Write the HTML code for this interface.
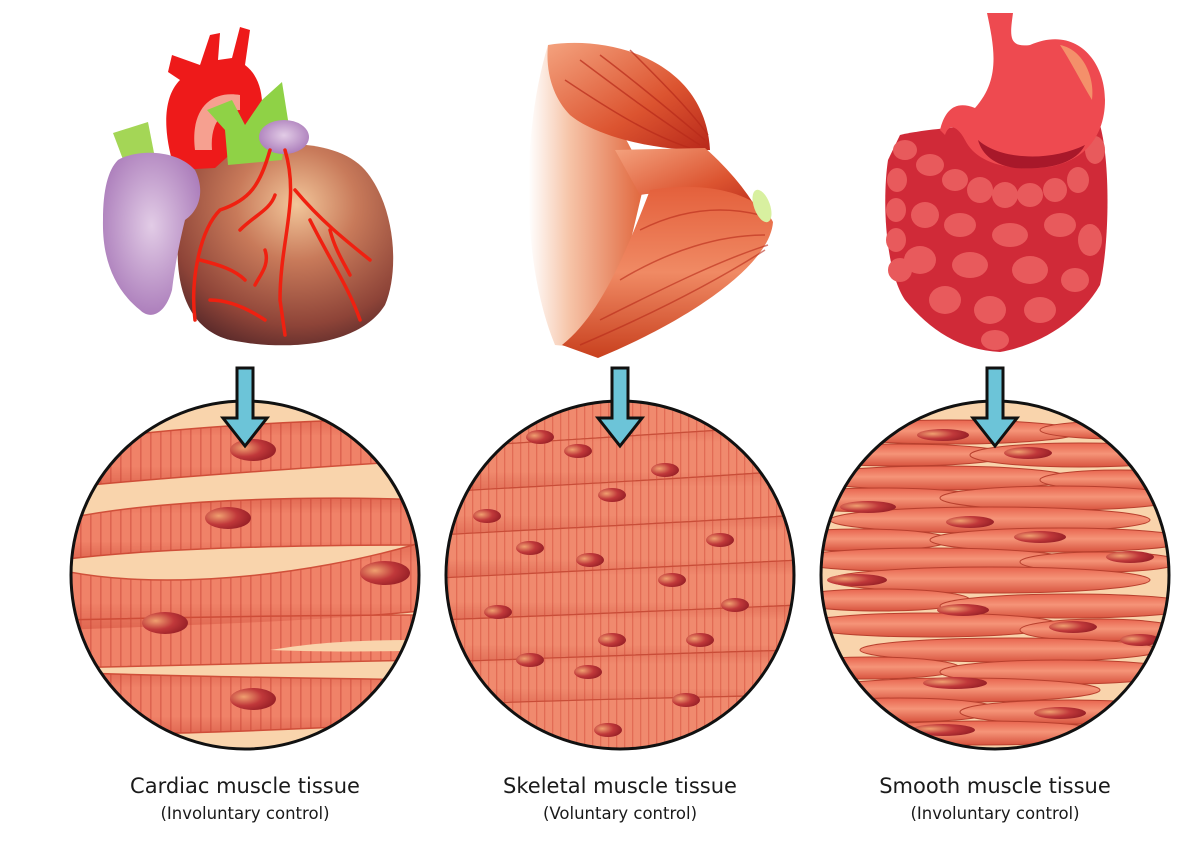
<!DOCTYPE html>
<html><head><meta charset="utf-8"><style>
html,body{margin:0;padding:0;background:#fff;}
svg{display:block}
text{font-family:"DejaVu Sans","Liberation Sans",sans-serif;fill:#1a1a1a;text-anchor:middle}
</style></head><body>
<svg width="1180" height="866" viewBox="0 0 1180 866" xmlns="http://www.w3.org/2000/svg">
<defs>
<pattern id="str" width="10" height="20" patternUnits="userSpaceOnUse"><rect width="10" height="20" fill="#f08268"/><rect x="0" width="1.6" height="20" fill="#de6450"/></pattern>
<pattern id="str2" width="8" height="20" patternUnits="userSpaceOnUse"><rect width="8" height="20" fill="#f08a6e"/><rect x="0" width="1.3" height="20" fill="#e26c55"/></pattern>
<linearGradient id="bandsh" x1="0" y1="0" x2="0" y2="1"><stop offset="0" stop-color="#c84030" stop-opacity="0.5"/><stop offset="0.25" stop-color="#c84030" stop-opacity="0"/><stop offset="0.7" stop-color="#c84030" stop-opacity="0"/><stop offset="1" stop-color="#c84030" stop-opacity="0.6"/></linearGradient>
<radialGradient id="nuc" cx="0.3" cy="0.4" r="0.8"><stop offset="0" stop-color="#f0a070"/><stop offset="0.5" stop-color="#c0383a"/><stop offset="1" stop-color="#8e1a22"/></radialGradient>
<linearGradient id="spin" x1="0" y1="0" x2="0" y2="1"><stop offset="0" stop-color="#e8644e"/><stop offset="0.45" stop-color="#f59478"/><stop offset="1" stop-color="#d8543f"/></linearGradient>
<radialGradient id="heart" cx="0.55" cy="0.3" r="0.8"><stop offset="0" stop-color="#f2c69a"/><stop offset="0.35" stop-color="#c87a5a"/><stop offset="0.75" stop-color="#8e4438"/><stop offset="1" stop-color="#4a2226"/></radialGradient>
<linearGradient id="upper" x1="0" y1="0" x2="1" y2="0"><stop offset="0" stop-color="#ffffff"/><stop offset="0.35" stop-color="#f6c4a8"/><stop offset="1" stop-color="#e0643a"/></linearGradient>
<linearGradient id="musc" x1="0" y1="0" x2="1" y2="1"><stop offset="0" stop-color="#f4a27e"/><stop offset="0.6" stop-color="#dc5430"/><stop offset="1" stop-color="#b8281a"/></linearGradient>
<linearGradient id="fore" x1="0" y1="0" x2="0" y2="1"><stop offset="0" stop-color="#e4603c"/><stop offset="0.5" stop-color="#f08a64"/><stop offset="1" stop-color="#c8401e"/></linearGradient>
<radialGradient id="purp" cx="0.5" cy="0.45" r="0.6"><stop offset="0" stop-color="#e2cce6"/><stop offset="1" stop-color="#a878b8"/></radialGradient>
<clipPath id="c1"><circle cx="245" cy="575" r="174"/></clipPath>
<clipPath id="c2"><circle cx="620" cy="575" r="174"/></clipPath>
<clipPath id="c3"><circle cx="995" cy="575" r="174"/></clipPath>
<g id="arrow"><path d="M-8,0 H8 V50 H22 L0,78 L-22,50 H-8 Z" fill="#6cc4d8" stroke="#111" stroke-width="3"/></g>
</defs>

<!-- HEART -->
<path d="M185,175 C230,140 330,130 365,170 C395,205 400,270 385,305 C360,345 290,352 230,340 C190,330 175,290 178,240 Z" fill="url(#heart)"/>
<path d="M200,65 L210,35 L220,33 L218,60 L232,58 L240,27 L250,30 L245,65 C265,80 265,110 258,140 L235,150 L215,168 L175,170 C165,140 160,100 180,80 L168,72 L172,55 Z" fill="#ee1a1a"/>
<path d="M195,150 C190,110 210,90 240,95 L240,110 C220,110 210,125 212,150 Z" fill="#f6a090"/>
<path d="M207,110 L232,100 L245,125 L262,100 L282,82 L288,120 L282,160 L228,165 L225,130 Z" fill="#8fd246"/>
<path d="M113,133 L148,122 L155,158 L127,170 Z" fill="#a4d656"/>
<ellipse cx="284" cy="137" rx="25" ry="17" fill="url(#purp)"/>
<path d="M118,160 C135,150 175,148 195,170 C205,190 200,210 185,220 C180,240 175,265 172,290 C165,315 150,320 140,310 C115,290 102,260 103,220 C103,190 108,170 118,160Z" fill="url(#purp)"/>
<g stroke="#f02010" stroke-width="3.5" fill="none" stroke-linecap="round">
<path d="M270,150 C260,185 250,200 220,210 C200,230 190,280 195,320"/>
<path d="M285,150 C300,200 280,240 280,300 L285,335"/>
<path d="M295,190 C320,220 345,240 370,260"/><path d="M310,220 C330,260 350,290 360,320"/>
<path d="M240,230 C255,215 270,210 275,195"/><path d="M265,250 C270,265 260,275 255,285"/>
<path d="M200,260 C220,265 235,270 245,280"/><path d="M210,300 C230,300 250,310 265,320"/>
<path d="M330,230 C335,250 345,265 350,275"/>
</g>

<!-- ARM -->
<path d="M548,45 C522,130 520,260 555,345 L605,350 L645,180 C630,140 600,90 548,45Z" fill="url(#upper)"/>
<path d="M548,45 C610,35 705,60 710,150 C670,152 600,140 570,115 C555,100 545,75 548,45Z" fill="url(#musc)"/>
<g stroke="#b82a1a" stroke-width="1.5" fill="none" opacity="0.7">
<path d="M580,60 C620,90 660,120 700,145"/><path d="M600,55 C640,85 675,115 705,140"/><path d="M565,80 C610,110 650,135 690,148"/><path d="M630,50 C660,80 690,110 708,135"/>
</g>
<path d="M615,150 L705,148 C730,170 750,195 760,215 L748,212 C710,195 670,190 640,195 Z" fill="url(#musc)"/>
<path d="M650,190 C710,180 760,195 773,222 C770,265 690,320 598,358 L562,345 C600,315 625,255 650,190 Z" fill="url(#fore)"/>
<g stroke="#b82a1a" stroke-width="1.5" fill="none" opacity="0.6">
<path d="M640,230 C680,210 720,205 760,215"/><path d="M620,280 C670,250 720,235 765,235"/><path d="M600,320 C660,290 720,260 768,245"/><path d="M580,345 C650,315 710,285 765,250"/>
</g>
<ellipse cx="762" cy="206" rx="8" ry="17" fill="#d8f0a0" transform="rotate(-20 762 206)"/>

<!-- INTESTINE / STOMACH -->
<path d="M900,135 C940,125 1060,120 1100,125 C1110,160 1110,240 1100,285 C1080,320 1040,345 1000,352 C960,350 930,330 905,300 C885,270 882,200 888,160Z" fill="#d02a38"/>
<g fill="#e85a5c">
<ellipse cx="905" cy="150" rx="12" ry="10"/><ellipse cx="897" cy="180" rx="10" ry="12"/><ellipse cx="896" cy="210" rx="10" ry="12"/><ellipse cx="896" cy="240" rx="10" ry="12"/><ellipse cx="900" cy="270" rx="12" ry="12"/>
<ellipse cx="930" cy="165" rx="14" ry="11"/><ellipse cx="955" cy="180" rx="13" ry="11"/><ellipse cx="980" cy="190" rx="13" ry="13"/><ellipse cx="1005" cy="195" rx="13" ry="13"/><ellipse cx="1030" cy="195" rx="13" ry="12"/><ellipse cx="1055" cy="190" rx="12" ry="12"/><ellipse cx="1078" cy="180" rx="11" ry="13"/><ellipse cx="1095" cy="150" rx="10" ry="14"/>
<ellipse cx="925" cy="215" rx="14" ry="13"/><ellipse cx="960" cy="225" rx="16" ry="12"/><ellipse cx="1010" cy="235" rx="18" ry="12"/><ellipse cx="1060" cy="225" rx="16" ry="12"/><ellipse cx="1090" cy="240" rx="12" ry="16"/>
<ellipse cx="920" cy="260" rx="16" ry="14"/><ellipse cx="970" cy="265" rx="18" ry="13"/><ellipse cx="1030" cy="270" rx="18" ry="14"/><ellipse cx="1075" cy="280" rx="14" ry="12"/>
<ellipse cx="945" cy="300" rx="16" ry="14"/><ellipse cx="990" cy="310" rx="16" ry="14"/><ellipse cx="1040" cy="310" rx="16" ry="13"/><ellipse cx="995" cy="340" rx="14" ry="10"/>
</g>
<path d="M987,13 L1013,13 C1010,35 1008,48 1030,45 C1075,25 1105,60 1105,100 C1105,140 1080,165 1040,168 C1000,170 975,160 965,140 C960,130 950,120 945,135 L940,130 C945,110 955,100 975,108 C1000,80 995,50 987,13Z" fill="#ee4a50"/>
<path d="M1060,45 C1085,50 1095,80 1092,100 C1080,80 1070,60 1060,45Z" fill="#f4906a"/>
<path d="M978,140 C1000,160 1050,162 1085,145 C1075,165 1045,170 1015,168 C995,165 982,155 978,140Z" fill="#a8182a"/>

<!-- CARDIAC CIRCLE -->
<g clip-path="url(#c1)">
<rect x="60" y="390" width="370" height="370" fill="#f9d4ac"/>
<g stroke="#d0503a" stroke-width="1.5">
<path d="M60,445 C150,428 300,420 430,418 L430,460 C300,468 160,478 60,488Z" fill="url(#str)"/>
<path d="M60,520 C150,500 300,495 430,500 L430,545 C300,545 150,548 60,560Z" fill="url(#str)"/>
<path d="M60,570 C150,590 300,580 430,540 L430,610 C340,620 200,625 60,630Z" fill="url(#str)"/>
<path d="M60,620 C150,618 300,615 430,615 L430,660 C300,662 150,666 60,668Z" fill="url(#str)"/>
<path d="M60,672 C150,676 300,678 430,680 L430,722 C300,730 150,735 60,735Z" fill="url(#str)"/>
</g>
<g fill="url(#bandsh)" opacity="0.7">
<path d="M60,445 C150,428 300,420 430,418 L430,460 C300,468 160,478 60,488Z"/>
<path d="M60,520 C150,500 300,495 430,500 L430,545 C300,545 150,548 60,560Z"/>
<path d="M60,570 C150,590 300,580 430,540 L430,610 C340,620 200,625 60,630Z"/>
<path d="M60,672 C150,676 300,678 430,680 L430,722 C300,730 150,735 60,735Z"/>
</g>
<path d="M270,650 C330,640 380,640 430,640 L430,650 C380,652 320,652 270,650Z" fill="#f9d4ac"/>
<ellipse cx="253" cy="450" rx="23" ry="11" fill="url(#nuc)"/>
<ellipse cx="228" cy="518" rx="23" ry="11" fill="url(#nuc)"/>
<ellipse cx="385" cy="573" rx="25" ry="12" fill="url(#nuc)"/>
<ellipse cx="165" cy="623" rx="23" ry="11" fill="url(#nuc)"/>
<ellipse cx="253" cy="699" rx="23" ry="11" fill="url(#nuc)"/>
</g>
<circle cx="245" cy="575" r="174" fill="none" stroke="#111" stroke-width="3"/>

<!-- SKELETAL CIRCLE -->
<g clip-path="url(#c2)">
<rect x="440" y="395" width="360" height="360" fill="#f08a6e"/>
<g fill="url(#str2)" stroke="#c9503a" stroke-width="1.2">
<path d="M440,400 L800,400 L800,425 C700,432 560,440 440,448Z"/>
<path d="M440,448 C560,440 700,432 800,425 L800,470 C700,478 560,485 440,492Z"/>
<path d="M440,492 C560,485 700,478 800,470 L800,515 C700,522 560,528 440,535Z"/>
<path d="M440,535 C560,528 700,522 800,515 L800,560 C700,565 560,572 440,578Z"/>
<path d="M440,578 C560,572 700,565 800,560 L800,605 C700,610 560,615 440,620Z"/>
<path d="M440,620 C560,615 700,610 800,605 L800,650 C700,652 560,658 440,662Z"/>
<path d="M440,662 C560,658 700,652 800,650 L800,695 C700,697 560,700 440,705Z"/>
<path d="M440,705 C560,700 700,697 800,695 L800,760 L440,760Z"/>
</g>
<g fill="url(#bandsh)" opacity="0.6">
<path d="M440,448 C560,440 700,432 800,425 L800,470 C700,478 560,485 440,492Z"/>
<path d="M440,535 C560,528 700,522 800,515 L800,560 C700,565 560,572 440,578Z"/>
<path d="M440,620 C560,615 700,610 800,605 L800,650 C700,652 560,658 440,662Z"/>
<path d="M440,492 C560,485 700,478 800,470 L800,515 C700,522 560,528 440,535Z"/>
<path d="M440,578 C560,572 700,565 800,560 L800,605 C700,610 560,615 440,620Z"/>
<path d="M440,662 C560,658 700,652 800,650 L800,695 C700,697 560,700 440,705Z"/>
</g>
<g fill="url(#nuc)">
<ellipse cx="540" cy="437" rx="14" ry="7"/><ellipse cx="578" cy="451" rx="14" ry="7"/><ellipse cx="665" cy="470" rx="14" ry="7"/>
<ellipse cx="612" cy="495" rx="14" ry="7"/><ellipse cx="487" cy="516" rx="14" ry="7"/><ellipse cx="720" cy="540" rx="14" ry="7"/>
<ellipse cx="530" cy="548" rx="14" ry="7"/><ellipse cx="590" cy="560" rx="14" ry="7"/><ellipse cx="672" cy="580" rx="14" ry="7"/>
<ellipse cx="735" cy="605" rx="14" ry="7"/><ellipse cx="498" cy="612" rx="14" ry="7"/><ellipse cx="612" cy="640" rx="14" ry="7"/>
<ellipse cx="700" cy="640" rx="14" ry="7"/><ellipse cx="530" cy="660" rx="14" ry="7"/><ellipse cx="588" cy="672" rx="14" ry="7"/>
<ellipse cx="686" cy="700" rx="14" ry="7"/><ellipse cx="608" cy="730" rx="14" ry="7"/>
</g>
</g>
<circle cx="620" cy="575" r="174" fill="none" stroke="#111" stroke-width="3"/>

<!-- SMOOTH CIRCLE -->
<g clip-path="url(#c3)">
<rect x="815" y="395" width="360" height="360" fill="#f9d4ac"/>
<g fill="url(#spin)" stroke="#b8402e" stroke-width="1">
<ellipse cx="950" cy="432" rx="130" ry="12"/><ellipse cx="1120" cy="430" rx="80" ry="9"/>
<ellipse cx="900" cy="455" rx="110" ry="11"/><ellipse cx="1080" cy="455" rx="110" ry="12"/>
<ellipse cx="940" cy="478" rx="130" ry="12"/><ellipse cx="1120" cy="480" rx="80" ry="10"/>
<ellipse cx="880" cy="500" rx="110" ry="12"/><ellipse cx="1060" cy="498" rx="120" ry="12"/>
<ellipse cx="990" cy="520" rx="160" ry="13"/><ellipse cx="860" cy="540" rx="90" ry="11"/>
<ellipse cx="1060" cy="540" rx="130" ry="12"/><ellipse cx="930" cy="560" rx="140" ry="12"/>
<ellipse cx="1100" cy="562" rx="80" ry="10"/><ellipse cx="990" cy="580" rx="160" ry="13"/>
<ellipse cx="880" cy="600" rx="90" ry="11"/><ellipse cx="1070" cy="606" rx="130" ry="12"/>
<ellipse cx="930" cy="625" rx="130" ry="12"/><ellipse cx="1100" cy="630" rx="80" ry="11"/>
<ellipse cx="1010" cy="650" rx="150" ry="12"/><ellipse cx="870" cy="668" rx="90" ry="11"/>
<ellipse cx="1060" cy="672" rx="120" ry="12"/><ellipse cx="960" cy="690" rx="140" ry="12"/>
<ellipse cx="900" cy="710" rx="100" ry="12"/><ellipse cx="1070" cy="712" rx="110" ry="12"/>
<ellipse cx="980" cy="733" rx="130" ry="12"/>
</g>
<g fill="url(#nuc)">
<ellipse cx="943" cy="435" rx="26" ry="6"/><ellipse cx="1028" cy="453" rx="24" ry="6"/><ellipse cx="868" cy="507" rx="28" ry="6"/>
<ellipse cx="970" cy="522" rx="24" ry="6"/><ellipse cx="1040" cy="537" rx="26" ry="6"/><ellipse cx="1130" cy="557" rx="24" ry="6"/>
<ellipse cx="857" cy="580" rx="30" ry="6"/><ellipse cx="963" cy="610" rx="26" ry="6"/><ellipse cx="1073" cy="627" rx="24" ry="6"/>
<ellipse cx="1140" cy="640" rx="20" ry="6"/><ellipse cx="955" cy="683" rx="32" ry="6"/><ellipse cx="1060" cy="713" rx="26" ry="6"/>
<ellipse cx="943" cy="730" rx="32" ry="6"/>
</g>
</g>
<circle cx="995" cy="575" r="174" fill="none" stroke="#111" stroke-width="3"/>

<use href="#arrow" x="245" y="368"/>
<use href="#arrow" x="620" y="368"/>
<use href="#arrow" x="995" y="368"/>

<text x="245" y="793" font-size="21">Cardiac muscle tissue</text>
<text x="245" y="819" font-size="16.5">(Involuntary control)</text>
<text x="620" y="793" font-size="21">Skeletal muscle tissue</text>
<text x="620" y="819" font-size="16.5">(Voluntary control)</text>
<text x="995" y="793" font-size="21">Smooth muscle tissue</text>
<text x="995" y="819" font-size="16.5">(Involuntary control)</text>
</svg>
</body></html>
